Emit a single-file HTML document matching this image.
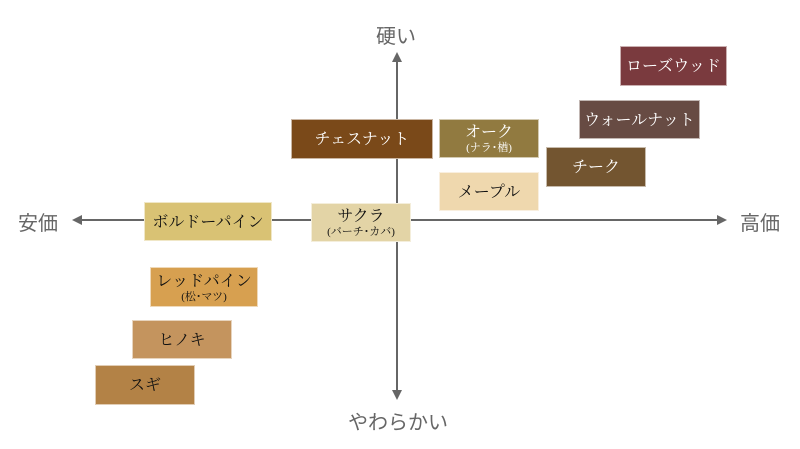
<!DOCTYPE html>
<html><head><meta charset="utf-8"><style>
body{margin:0;width:800px;height:449px;background:#fff;position:relative;overflow:hidden;font-family:"Liberation Serif","Noto Serif CJK SC",serif}
.b{position:absolute;display:flex;flex-direction:column;align-items:center;justify-content:center;font-size:16px;line-height:18px;box-sizing:border-box;border:1px solid rgba(255,255,255,.6);padding-top:2px}
.b small{font-size:11px;line-height:13px}
.w{color:#fff}.d{color:#111}
.l{position:absolute;font-family:"Liberation Sans","Noto Sans CJK JP",sans-serif;font-size:20px;color:#666}
</style></head><body>
<svg width="800" height="449" style="position:absolute;left:0;top:0">
<line x1="80" y1="220" x2="718" y2="220" stroke="#666" stroke-width="2"/>
<polygon points="72,220 82,215 82,225" fill="#666"/>
<polygon points="727,220 717,215 717,225" fill="#666"/>
<line x1="397" y1="60" x2="397" y2="392" stroke="#666" stroke-width="2"/>
<polygon points="397,52 392,62 402,62" fill="#666"/>
<polygon points="397,400 392,390 402,390" fill="#666"/>
</svg>
<div class="l" style="left:376px;top:20px">硬い</div>
<div class="l" style="left:348px;top:406px">やわらかい</div>
<div class="l" style="left:18px;top:207px">安価</div>
<div class="l" style="left:740px;top:207px">高価</div>
<div class="b w" style="left:620px;top:46px;width:107px;height:40px;background:#7a3a3e">ローズウッド</div>
<div class="b w" style="left:579px;top:100px;width:121px;height:39px;background:#674b43">ウォールナット</div>
<div class="b w" style="left:546px;top:147px;width:100px;height:40px;background:#735530">チーク</div>
<div class="b w" style="left:291px;top:119px;width:142px;height:40px;background:#7a4919">チェスナット</div>
<div class="b w" style="left:439px;top:119px;width:100px;height:39px;background:#917a40">オーク<small>(ナラ･楢)</small></div>
<div class="b d" style="left:439px;top:172px;width:100px;height:39px;background:#efd8ae">メープル</div>
<div class="b d" style="left:311px;top:203px;width:100px;height:39px;background:#e3d4a6">サクラ<small>(バーチ･カバ)</small></div>
<div class="b d" style="left:144px;top:202px;width:128px;height:39px;background:#d9c274">ボルドーパイン</div>
<div class="b d" style="left:150px;top:267px;width:108px;height:40px;background:#d7a050">レッドパイン<small>(松･マツ)</small></div>
<div class="b d" style="left:132px;top:320px;width:100px;height:39px;background:#c4945e">ヒノキ</div>
<div class="b d" style="left:95px;top:365px;width:100px;height:40px;background:#b38246">スギ</div>
</body></html>
